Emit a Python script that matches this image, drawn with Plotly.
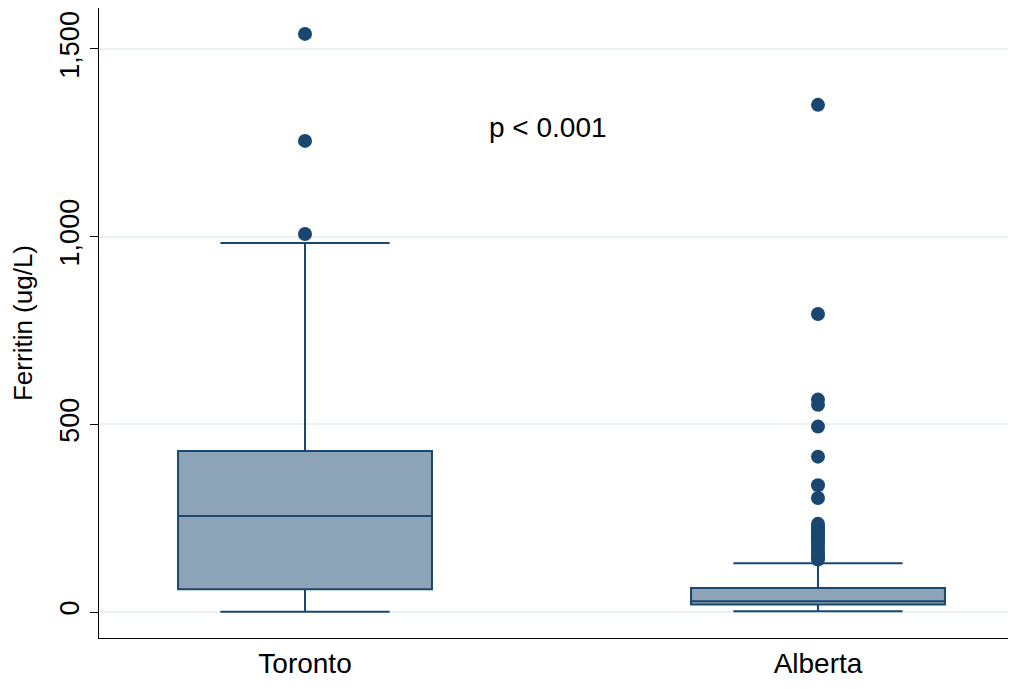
import plotly.graph_objects as go

groups = ["Toronto", "Alberta"]
q1 = [61, 20]
median = [256, 29]
q3 = [429, 64]
lower_whisker = [1, 2]
upper_whisker = [983, 130]
outliers_toronto = [1540, 1255, 1007]
outliers_alberta = [1351, 794, 566, 552, 494, 414, 338, 304,
                    235, 226, 218, 210, 202, 194, 186, 176, 166, 156, 146, 140]
yticks = [0, 500, 1000, 1500]
ytick_text = ["0", "500", "1,000", "1,500"]

NAVY = "#1A476F"
FILL = "#8DA3B7"
pos = [0, 1]
box_w = 0.495
cap_half = 0.165

fig = go.Figure()
for i, g in enumerate(groups):
    fig.add_trace(go.Box(
        x=[pos[i]], q1=[q1[i]], median=[median[i]], q3=[q3[i]],
        lowerfence=[lower_whisker[i]], upperfence=[upper_whisker[i]],
        width=box_w, fillcolor=FILL, line=dict(color=NAVY, width=2),
        whiskerwidth=0, showlegend=False, boxpoints=False))
    for v in (lower_whisker[i], upper_whisker[i]):
        fig.add_trace(go.Scatter(
            x=[pos[i] - cap_half, pos[i] + cap_half], y=[v, v], mode="lines",
            line=dict(color=NAVY, width=2), showlegend=False, hoverinfo="skip"))

for i, outs in enumerate([outliers_toronto, outliers_alberta]):
    fig.add_trace(go.Scatter(
        x=[pos[i]] * len(outs), y=outs, mode="markers",
        marker=dict(color=NAVY, size=14), showlegend=False))

fig.add_annotation(x=0.474, y=1290, text="p < 0.001", showarrow=False,
                   font=dict(size=28, color="black", family="Liberation Sans"))

fig.update_layout(
    width=1008, height=681,
    margin=dict(l=91, r=0, t=0, b=51),
    plot_bgcolor="white", paper_bgcolor="white",
    font=dict(family="Liberation Sans", color="black"),
    xaxis=dict(range=[-0.4016, 1.386], tickvals=pos, ticktext=groups,
               showgrid=False, zeroline=False, showline=True, linecolor="black",
               linewidth=1, ticks="", tickfont=dict(size=28)),
    yaxis=dict(range=[-69, 1609], tickvals=yticks, ticktext=ytick_text,
               tickangle=-90, ticks="outside", ticklen=8, tickcolor="black",
               showgrid=True, gridcolor="#EAF2F3", gridwidth=2, zeroline=False,
               showline=True, linecolor="black", linewidth=1,
               tickfont=dict(size=27),
               title=dict(text="Ferritin (ug/L)", font=dict(size=26), standoff=16)),
)

fig.write_html("out.html")
